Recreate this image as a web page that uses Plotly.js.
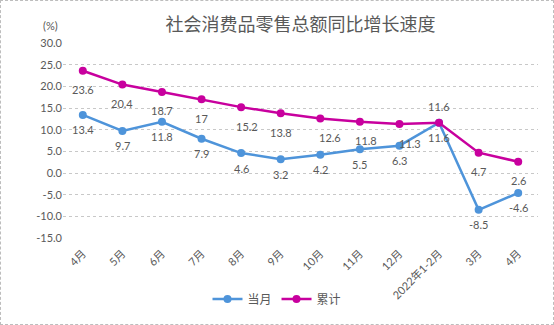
<!DOCTYPE html>
<html>
<head>
<meta charset="utf-8">
<script src="https://cdn.plot.ly/plotly-3.0.1.min.js"></script>
<style>
  html, body { margin: 0; padding: 0; background: #fff; }
  #wrap { position: relative; width: 554px; height: 325px; }
  #chart { width: 554px; height: 325px; }
  #frame { position: absolute; left: 0; top: 0; width: 554px; height: 325px; box-sizing: border-box;
           border: 1px dashed #bdbdbd; pointer-events: none; }
</style>
</head>
<body>
<div id="wrap"><div id="chart"></div><div id="frame"></div></div>
<script>
// ---- data ----
const categories = ["4月", "5月", "6月", "7月", "8月", "9月", "10月", "11月", "12月", "2022年1-2月", "3月", "4月"];
const monthly = [13.4, 9.7, 11.8, 7.9, 4.6, 3.2, 4.2, 5.5, 6.3, 11.6, -8.5, -4.6];      // 当月
const cumulative = [23.6, 20.4, 18.7, 17, 15.2, 13.8, 12.6, 11.8, 11.3, 11.6, 4.7, 2.6]; // 累计
const seriesNames = ["当月", "累计"];
const yTickVals = [30, 25, 20, 15, 10, 5, 0, -5, -10, -15];

// ---- style ----
const BLUE = "#4e94da";
const MAGENTA = "#c8009e";
const TXT = "#595959";
const FONT = "Lato, 'Noto Sans CJK SC', sans-serif";
const xIdx = categories.map((_, i) => i);

// label offsets (style only)
const blueShiftY = monthly.map(() => -15);
const magShiftY = cumulative.map((_, i) => i === 9 ? 16 : -19);
const magShiftX = cumulative.map((_, i) => ({4: 6, 6: 10, 7: 6, 8: 11}[i] || 0));

const traces = [
  { x: xIdx, y: monthly, name: seriesNames[0], type: "scatter", mode: "lines+markers",
    line: { color: BLUE, width: 2.5 }, marker: { color: BLUE, size: 8 }, hoverinfo: "skip" },
  { x: xIdx, y: cumulative, name: seriesNames[1], type: "scatter", mode: "lines+markers",
    line: { color: MAGENTA, width: 2.5 }, marker: { color: MAGENTA, size: 8 }, hoverinfo: "skip" }
];

const annotations = [];
monthly.forEach((v, i) => annotations.push({
  x: i, y: v, xref: "x", yref: "y", text: String(v), showarrow: false,
  yshift: blueShiftY[i], font: { family: FONT, size: 11, color: TXT }
}));
cumulative.forEach((v, i) => annotations.push({
  x: i, y: v, xref: "x", yref: "y", text: String(v), showarrow: false,
  yshift: magShiftY[i], xshift: magShiftX[i], font: { family: FONT, size: 11, color: TXT }
}));
annotations.push({
  text: "(%)", xref: "paper", yref: "paper", x: -0.027, y: 1.09, xanchor: "center", yanchor: "middle",
  showarrow: false, font: { family: FONT, size: 11, color: TXT }
});

const layout = {
  width: 554, height: 325,
  margin: { l: 63, r: 16, t: 43, b: 87 },
  paper_bgcolor: "#fff", plot_bgcolor: "#fff",
  title: { text: "社会消费品零售总额同比增长速度", x: 0.5, xref: "paper", y: 1 - 25 / 325, yanchor: "middle",
           font: { family: "'Noto Sans CJK SC', sans-serif", size: 18, color: TXT } },
  showlegend: true,
  legend: { orientation: "h", x: 0.5, xanchor: "center", xref: "container", y: 26 / 325, yref: "container", yanchor: "middle",
            font: { family: "'Noto Sans CJK SC', sans-serif", size: 12, color: TXT }, itemwidth: 30 },
  xaxis: {
    range: [-0.5, 11.5], tickvals: xIdx, ticktext: categories, tickangle: -45,
    showgrid: false, zeroline: false, showline: false, ticks: "", ticklabelstandoff: 6,
    tickfont: { family: FONT, size: 11, color: TXT }, fixedrange: true
  },
  yaxis: {
    range: [-15, 30], tickvals: yTickVals, ticktext: yTickVals.map(v => v.toFixed(1)),
    showgrid: true, gridcolor: "#c8c8c8", griddash: "dot", gridwidth: 1,
    zeroline: false, showline: false, ticks: "",
    tickfont: { family: FONT, size: 11, color: TXT }, fixedrange: true
  },
  annotations: annotations
};

Plotly.newPlot("chart", traces, layout, { displayModeBar: false, staticPlot: true });
</script>
</body>
</html>
